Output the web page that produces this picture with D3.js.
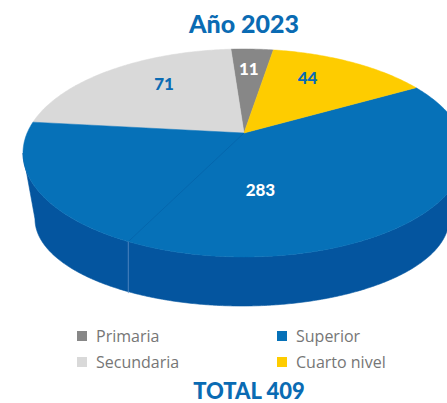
<!DOCTYPE html>
<html><head><meta charset="utf-8">
<script src="https://cdn.jsdelivr.net/npm/d3@7"></script>
<style>
html,body{margin:0;padding:0;background:#fff;}
svg{display:block;}
</style></head>
<body>
<svg id="chart" width="447" height="403"></svg>
<script>
// ---- data ----
const title = "Año 2023";
const categories = ["Primaria", "Secundaria", "Superior", "Cuarto nivel"];
const values = [11, 71, 283, 44];
const totalLabel = "TOTAL 409";

// ---- styles ----
const topColors = ["#878787", "#D9D9D9", "#0671B8", "#FECC00"];
const sideColors = ["#6b6b6b", "#b5b5b5", "#04559F", "#d9ad00"];
const labelColors = ["#ffffff", "#0A6BB3", "#ffffff", "#0A6BB3"];
const blue = "#0A6BB3";

const svg = d3.select("#chart");

// ---- 3D projection of the pie (Excel-like tilted disc with perspective) ----
const cx = 244, cyTop = 153, rx = 221, ry = 104, apexY = 133;
const bcx = 242, bcy = 219, brx = 207, bry = 87;
const startRad = 6.7 * Math.PI / 180;
const warp = 8 * Math.PI / 180;
const seamFraction = 0.314;

const pie = d3.pie().sort(null).value(d => d)(values);
const phi = s => { const a = startRad - s; return a + warp * Math.sin(a); };
const T = p => [cx + rx * Math.sin(p), cyTop - ry * Math.cos(p)];
const B = p => [bcx + brx * Math.sin(p), bcy - bry * Math.cos(p)];
const apex = [cx, apexY];

function topPoints(s0, s1) {
  const n = Math.max(4, Math.ceil((s1 - s0) / 0.01));
  const pts = [apex];
  for (let i = 0; i <= n; i++) pts.push(T(phi(s0 + (s1 - s0) * i / n)));
  return pts;
}
const line = d3.line();

// sides (front half only)
const gSide = svg.append("g");
pie.forEach((d, i) => {
  const a = phi(d.endAngle), b = phi(d.startAngle);
  const lo0 = Math.min(a, b), hi0 = Math.max(a, b);
  [-2 * Math.PI, 0, 2 * Math.PI].forEach(k => {
    const lo = Math.max(lo0 + k, Math.PI / 2), hi = Math.min(hi0 + k, 3 * Math.PI / 2);
    if (hi <= lo) return;
    const n = Math.ceil((hi - lo) / 0.01);
    const pts = [];
    for (let j = 0; j <= n; j++) pts.push(T(lo + (hi - lo) * j / n));
    for (let j = n; j >= 0; j--) pts.push(B(lo + (hi - lo) * j / n));
    gSide.append("path").attr("d", line(pts) + "Z")
      .attr("fill", sideColors[i]).attr("stroke", sideColors[i]).attr("stroke-width", 0.6);
  });
});

// top faces
const gTop = svg.append("g");
pie.forEach((d, i) => {
  gTop.append("path").attr("d", line(topPoints(d.startAngle, d.endAngle)) + "Z")
    .attr("fill", topColors[i]).attr("stroke", topColors[i]).attr("stroke-width", 0.5);
});

// seam drawn by Excel inside the large slice
{
  const big = pie[2];
  const sp = phi(big.startAngle + (big.endAngle - big.startAngle) * seamFraction);
  const t = T(sp), b = B(sp);
  svg.append("line").attr("x1", apex[0]).attr("y1", apex[1]).attr("x2", t[0]).attr("y2", t[1])
    .attr("stroke", "#0562a8").attr("stroke-width", 0.7);
  svg.append("line").attr("x1", t[0]).attr("y1", t[1]).attr("x2", t[0]).attr("y2", b[1])
    .attr("stroke", "#5d8fc8").attr("stroke-width", 0.8);
}

// value labels: blend of projected mid-angle position and face centroid
const lfx = 0.56, lfy = 0.62, lcy = 130, blend = 0.75;
pie.forEach((d, i) => {
  const m = phi((d.startAngle + d.endAngle) / 2);
  const p = [cx + rx * lfx * Math.sin(m), lcy - ry * lfy * Math.cos(m)];
  const c = d3.polygonCentroid(topPoints(d.startAngle, d.endAngle));
  const x = blend * p[0] + (1 - blend) * c[0], y = blend * p[1] + (1 - blend) * c[1];
  svg.append("text").attr("x", x).attr("y", y)
    .attr("text-anchor", "middle").attr("dominant-baseline", "central")
    .attr("font-family", "Lato, 'Open Sans', sans-serif").attr("font-weight", 900)
    .attr("font-size", 17).attr("fill", labelColors[i]).text(d.data);
});

// title
svg.append("text").attr("x", 244).attr("y", 33).attr("text-anchor", "middle")
  .attr("font-family", "Lato, sans-serif").attr("font-weight", 900).attr("font-size", 25)
  .attr("fill", blue).text(title);

// legend
const legend = svg.append("g");
categories.forEach((c, i) => {
  const col = Math.floor(i / 2), row = i % 2;
  const x = 77 + col * 200, y = 331 + row * 26;
  legend.append("rect").attr("x", x).attr("y", y).attr("width", 10).attr("height", 10).attr("fill", topColors[i]);
  legend.append("text").attr("x", x + 19).attr("y", y + 11)
    .attr("font-family", "'Open Sans', sans-serif").attr("font-size", 16).attr("fill", "#767676").text(c);
});

// total
svg.append("text").attr("x", 249).attr("y", 399).attr("text-anchor", "middle")
  .attr("font-family", "Lato, sans-serif").attr("font-weight", 900).attr("font-size", 22)
  .attr("fill", blue).text(totalLabel);
</script>
</body></html>
